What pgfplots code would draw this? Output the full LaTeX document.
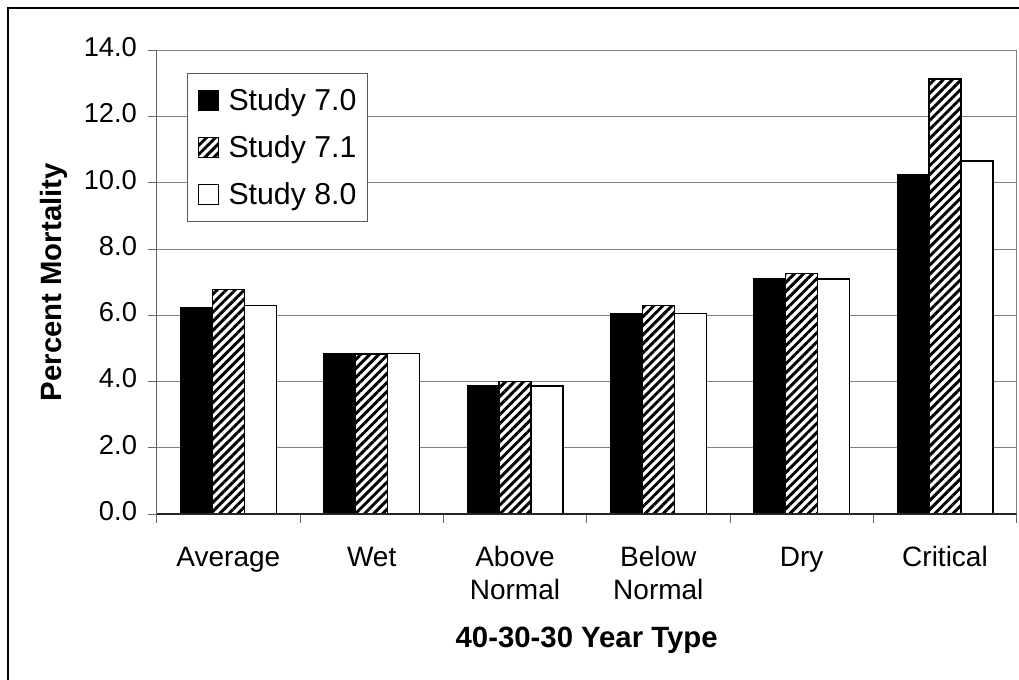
\documentclass[border=0pt]{standalone}
\usepackage{fontspec}
\setmainfont{Liberation Sans}
\usepackage{pgfplots}
\pgfplotsset{compat=1.18}
\usetikzlibrary{patterns.meta}

\begin{document}
\begin{tikzpicture}
\begin{axis}[
  at={(117.5pt,123.75pt)}, anchor=south west,
  scale only axis, width=645pt, height=347.75pt,
  ybar=0pt, bar width=24pt,
  xmin=-0.5, xmax=5.5, ymin=0, ymax=14,
  xtick={0,...,5},
  xticklabels={Average,Wet,{Above\\Normal},{Below\\Normal},Dry,Critical},
  minor xtick={-0.5,0.5,...,5.5},
  ytick={0,2,...,14},
  tick pos=left, tick align=outside,
  major tick length=6.75pt, minor tick length=6.75pt,
  major x tick style={draw=none},
  every tick/.style={draw=black!60, line width=0.75pt},
  axis line style={draw=black!50, line width=0.75pt},
  ymajorgrids, grid style={draw=black!50, line width=0.75pt},
  /pgf/number format/assume math mode=true,
  yticklabel style={font=\fontsize{20.5}{24}\selectfont, xshift=-4.5pt,
    /pgf/number format/fixed, /pgf/number format/fixed zerofill,
    /pgf/number format/precision=1},
  typeset ticklabels with strut,
  xticklabel style={font=\fontsize{21}{24.75}\selectfont, align=center,
    anchor=north, yshift=-12pt},
  ylabel={Percent Mortality},
  ylabel style={at={(axis description cs:-0.1192,0.5)}, anchor=center,
    font=\bfseries\fontsize{22}{26}\selectfont},
  xlabel={40-30-30 Year Type},
  xlabel style={at={(axis description cs:0.5,-0.2717)}, anchor=center,
    font=\bfseries\fontsize{22}{26}\selectfont},
  legend style={at={(axis description cs:0.0349,0.9505)}, anchor=north west,
    draw=black!65, line width=0.75pt, fill=white,
    font=\fontsize{22.7}{27}\selectfont,
    inner xsep=8.25pt, inner ysep=4.5pt, row sep=3.5pt,
    nodes={inner xsep=0pt, inner ysep=6.8pt},
    /tikz/every odd column/.append style={column sep=7pt}},
  legend cell align=left,
  legend image code/.code={\draw[#1, line width=0.75pt] (0pt,-7.5pt) rectangle (15pt,7.5pt);},
]
% Study 7.0
\addplot[draw=black, fill=black, line width=0.75pt] coordinates
  {(0,6.24) (1,4.85) (2,3.89) (3,6.06) (4,7.10) (5,10.24)};
% Study 7.1
\addplot[draw=black, line width=1.2pt, preaction={fill=white},
  pattern={Lines[angle=45, distance=4.8pt, line width=2.2pt]}] coordinates
  {(0,6.78) (1,4.84) (2,4.00) (3,6.30) (4,7.26) (5,13.13)};
% Study 8.0
\addplot[draw=black, fill=white, line width=1.2pt] coordinates
  {(0,6.29) (1,4.85) (2,3.87) (3,6.05) (4,7.10) (5,10.65)};
\legend{Study 7.0, Study 7.1, Study 8.0}
\draw[black!85, line width=0.9pt] (rel axis cs:0,1) -- (rel axis cs:0,0) -- (rel axis cs:1,0);
\end{axis}
\draw[line width=1.5pt] (6pt,-20pt) rectangle (790pt,503.6pt);
\pgfresetboundingbox
\useasboundingbox (0,0) rectangle (764.25pt,509.25pt);
\end{tikzpicture}
\end{document}
